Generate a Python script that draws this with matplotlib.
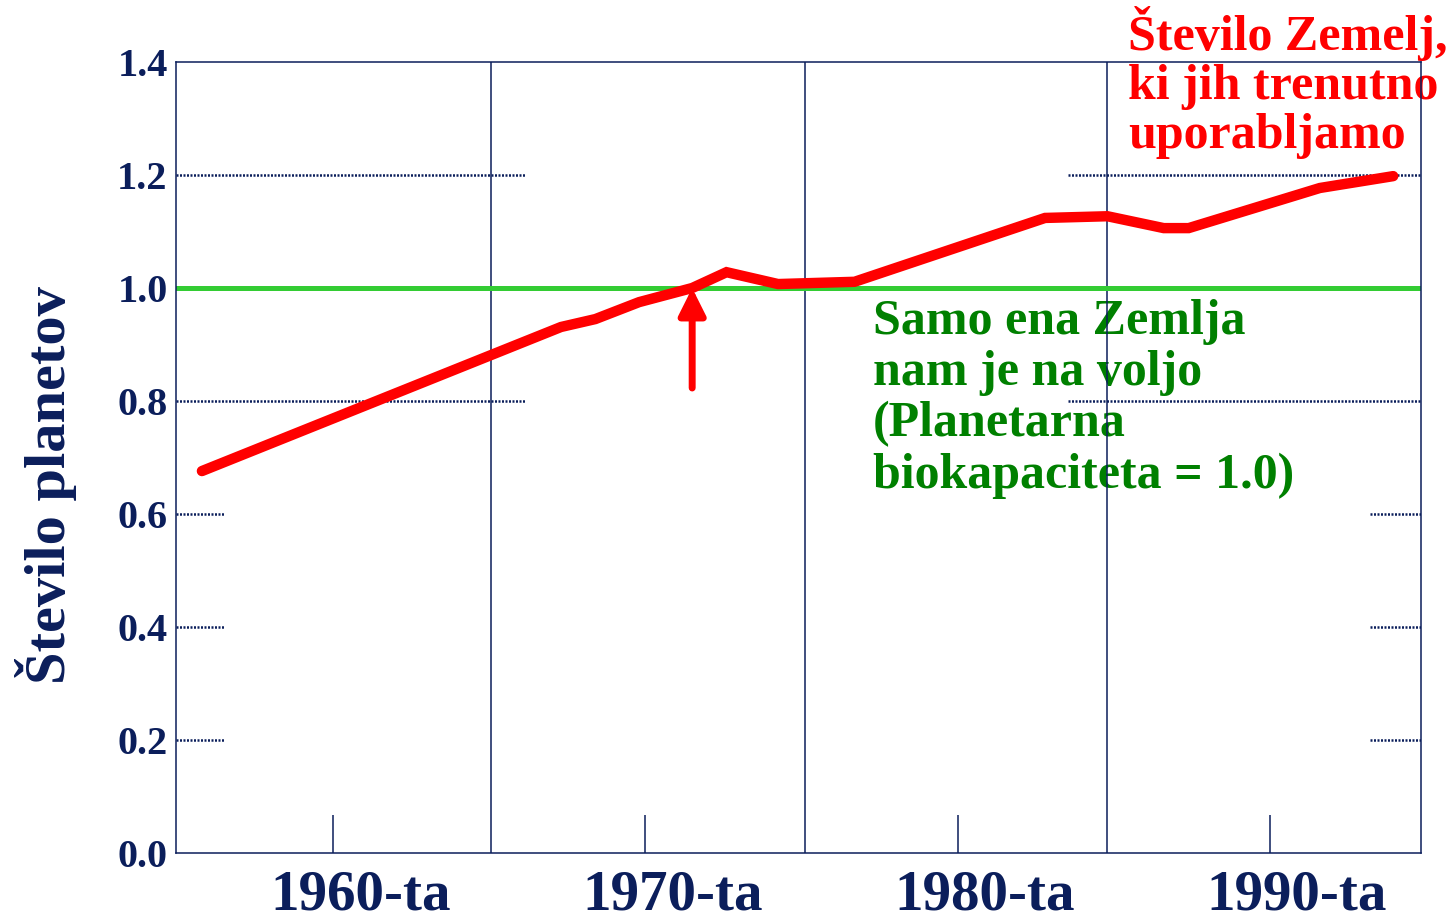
import numpy as np
import matplotlib
matplotlib.use("Agg")
import matplotlib.pyplot as plt

# footprint in number of planets
years = [1955.8, 1967.3, 1968.4, 1969.8, 1971.5, 1972.6, 1974.25, 1976.7,
         1982.8, 1984.8, 1986.6, 1987.4, 1991.6, 1993.95]
planets = [0.676, 0.931, 0.945, 0.975, 1.000, 1.028, 1.007, 1.011,
           1.124, 1.127, 1.106, 1.106, 1.177, 1.198]

decades = [1960, 1970, 1980, 1990]
decade_labels = ["1960-ta", "1970-ta", "1980-ta", "1990-ta"]
dividers = [1965.05, 1975.1, 1984.8]
yticks = [0.0, 0.2, 0.4, 0.6, 0.8, 1.0, 1.2, 1.4]

navy = "#0b1e5b"
serif = ["Liberation Serif", "DejaVu Serif"]
plt.rcParams["font.family"] = serif
plt.rcParams["font.weight"] = "bold"

fig = plt.figure(figsize=(14.52, 9.23), dpi=100)
ax = fig.add_axes([176/1452, 70/923, 1245/1452, 791/923])
ax.set_xlim(1954.97, 1994.84)
ax.set_ylim(0, 1.4)

for s in ax.spines.values():
    s.set_color(navy)
    s.set_linewidth(1.1)
    s.set_zorder(5)

ax.set_xticks([])
ax.set_yticks(yticks)
ax.set_yticklabels([f"{v:.1f}" for v in yticks], fontsize=29,
                   fontweight="bold", color=navy)
ax.tick_params(axis="y", length=0, pad=6)

# partial dotted grid lines
dots = (0, (0.8, 0.6))
for v in [0.8, 1.2]:
    ax.hlines(v, 1954.97, 1966.18, colors=navy, linestyles=[dots], lw=1.8, zorder=2)
    ax.hlines(v, 1983.53, 1994.84, colors=navy, linestyles=[dots], lw=1.8, zorder=2)
for v in [0.2, 0.4, 0.6]:
    ax.hlines(v, 1954.97, 1956.54, colors=navy, linestyles=[dots], lw=1.8, zorder=2)
    ax.hlines(v, 1993.2, 1994.84, colors=navy, linestyles=[dots], lw=1.8, zorder=2)

ax.vlines(dividers, 0, 1.4, colors=navy, lw=1.1, zorder=2)
ax.vlines(decades, 0, 0.067, colors=navy, lw=1.1, zorder=2)

for d, lab in zip(decades, decade_labels):
    ax.text(d + 0.87, -0.1, lab, ha="center", va="baseline", fontsize=41,
            fontweight="bold", color=navy, clip_on=False)

ax.axhline(1.0, color="#33cc33", lw=3.6, zorder=3)
ax.plot(years, planets, color="red", lw=7.5, solid_capstyle="round",
        solid_joinstyle="miter", zorder=4)

ax.annotate("", xy=(1971.5, 1.0), xytext=(1971.5, 0.823),
            arrowprops=dict(arrowstyle="-|>,head_length=0.8,head_width=0.4",
                            mutation_scale=20, color="red", lw=5,
                            shrinkA=0, shrinkB=0), zorder=4)

ax.text(1985.46, (853 - 148) / 565, "Število Zemelj,\nki jih trenutno\nuporabljamo",
        ha="left", va="baseline", fontsize=36, fontweight="bold", color="red",
        linespacing=1.08, clip_on=False, zorder=1.5)
ax.text(1977.29, (853 - 488) / 565,
        "Samo ena Zemlja\nnam je na voljo\n(Planetarna\nbiokapaciteta = 1.0)",
        ha="left", va="baseline", fontsize=36, fontweight="bold", color="#008000",
        linespacing=1.15, zorder=1.5)

fig.text(46/1452, (923 - 485)/923, "Število planetov", rotation=90,
         ha="center", va="center", fontsize=42, fontweight="bold", color=navy)

fig.savefig("out.png", dpi=100)
